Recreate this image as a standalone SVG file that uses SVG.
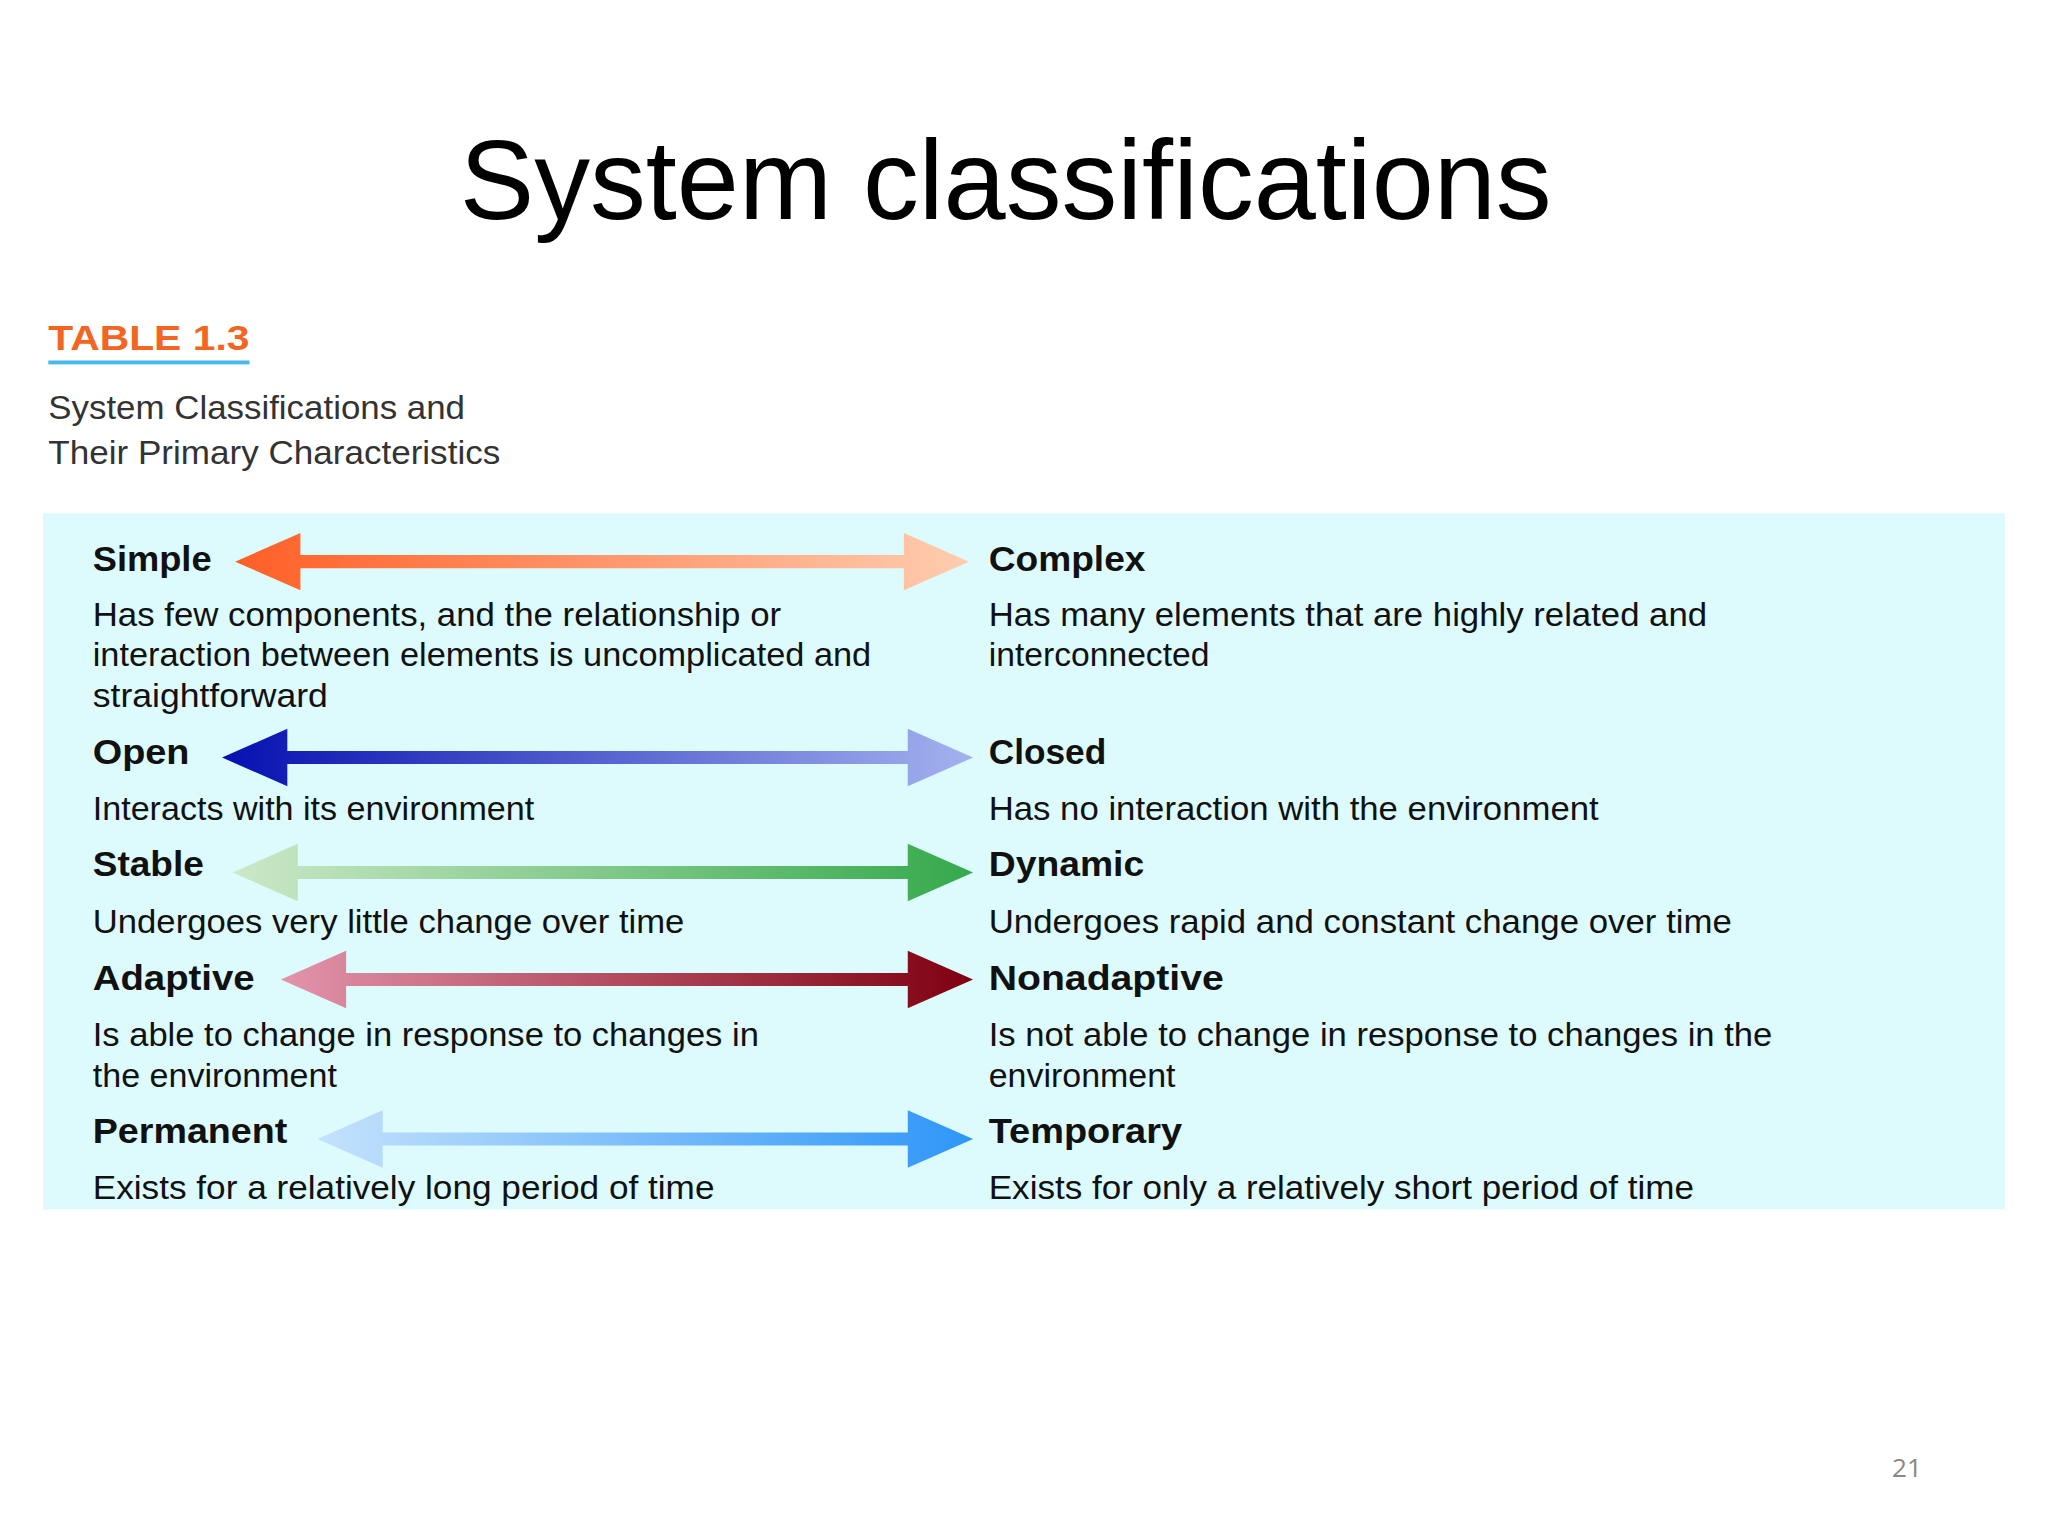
<svg xmlns="http://www.w3.org/2000/svg" width="2048" height="1536" viewBox="0 0 2048 1536">
<style>
.t{font-family:"Liberation Sans",Arial,sans-serif;fill:#111}
.lb{font-size:27px;font-weight:bold}
.d{font-size:26px}
</style>
<defs>
<linearGradient id="g1" gradientUnits="userSpaceOnUse" x1="180" x2="742"><stop offset="0" stop-color="#ff5f26"/><stop offset="1" stop-color="#ffcdb0"/></linearGradient>
<linearGradient id="g2" gradientUnits="userSpaceOnUse" x1="170" x2="745"><stop offset="0" stop-color="#0610b0"/><stop offset="1" stop-color="#a4b2ee"/></linearGradient>
<linearGradient id="g3" gradientUnits="userSpaceOnUse" x1="178" x2="745"><stop offset="0" stop-color="#cce8c8"/><stop offset="1" stop-color="#35a94c"/></linearGradient>
<linearGradient id="g4" gradientUnits="userSpaceOnUse" x1="215" x2="745"><stop offset="0" stop-color="#e294ab"/><stop offset="1" stop-color="#7e0010"/></linearGradient>
<linearGradient id="g5" gradientUnits="userSpaceOnUse" x1="243" x2="745"><stop offset="0" stop-color="#c4e2fc"/><stop offset="1" stop-color="#2e96f8"/></linearGradient>
</defs>
<rect width="2048" height="1536" fill="#fff"/>
<g transform="scale(1.30612)">
<text class="t" x="770" y="168" text-anchor="middle" font-family="'Open Sans','Liberation Sans',sans-serif" font-size="86" textLength="836" lengthAdjust="spacingAndGlyphs" style="fill:#000">System classifications</text>
<g id="header">
<text x="37" y="268" font-family="'Liberation Sans',Arial,sans-serif" font-weight="bold" font-size="27" fill="#f26522" textLength="154" lengthAdjust="spacingAndGlyphs">TABLE 1.3</text>
<rect x="37" y="276" width="154" height="3" fill="#4ab8e8"/>
<text class="t d" x="37" y="321" textLength="319" lengthAdjust="spacingAndGlyphs" style="fill:#333">System Classifications and</text>
<text class="t d" x="37" y="355" textLength="346" lengthAdjust="spacingAndGlyphs" style="fill:#333">Their Primary Characteristics</text>
</g>
<rect x="33" y="393" width="1502" height="533" fill="#ddfbfc"/>
<g id="connectors">
<path d="M180,430 L230,408 L230,425 L692,425 L692,408 L742,430 L692,452 L692,435 L230,435 L230,452 Z" fill="url(#g1)"/>
<path d="M170,580 L220,558 L220,575 L695,575 L695,558 L745,580 L695,602 L695,585 L220,585 L220,602 Z" fill="url(#g2)"/>
<path d="M178,668 L228,646 L228,663 L695,663 L695,646 L745,668 L695,690 L695,673 L228,673 L228,690 Z" fill="url(#g3)"/>
<path d="M215,750 L265,728 L265,745 L695,745 L695,728 L745,750 L695,772 L695,755 L265,755 L265,772 Z" fill="url(#g4)"/>
<path d="M243,872 L293,850 L293,867 L695,867 L695,850 L745,872 L695,894 L695,877 L293,877 L293,894 Z" fill="url(#g5)"/>
</g>
<g id="simple"><text class="t lb" x="71" y="437" textLength="91" lengthAdjust="spacingAndGlyphs">Simple</text>
<text class="t d" x="71" y="479" textLength="527" lengthAdjust="spacingAndGlyphs">Has few components, and the relationship or</text>
<text class="t d" x="71" y="510" textLength="596" lengthAdjust="spacingAndGlyphs">interaction between elements is uncomplicated and</text>
<text class="t d" x="71" y="541" textLength="180" lengthAdjust="spacingAndGlyphs">straightforward</text></g>
<g id="complex"><text class="t lb" x="757" y="437" textLength="120" lengthAdjust="spacingAndGlyphs">Complex</text>
<text class="t d" x="757" y="479" textLength="550" lengthAdjust="spacingAndGlyphs">Has many elements that are highly related and</text>
<text class="t d" x="757" y="510" textLength="169" lengthAdjust="spacingAndGlyphs">interconnected</text></g>
<g id="open"><text class="t lb" x="71" y="585" textLength="74" lengthAdjust="spacingAndGlyphs">Open</text>
<text class="t d" x="71" y="628" textLength="338" lengthAdjust="spacingAndGlyphs">Interacts with its environment</text></g>
<g id="closed"><text class="t lb" x="757" y="585" textLength="90" lengthAdjust="spacingAndGlyphs">Closed</text>
<text class="t d" x="757" y="628" textLength="467" lengthAdjust="spacingAndGlyphs">Has no interaction with the environment</text></g>
<g id="stable"><text class="t lb" x="71" y="671" textLength="85" lengthAdjust="spacingAndGlyphs">Stable</text>
<text class="t d" x="71" y="714" textLength="453" lengthAdjust="spacingAndGlyphs">Undergoes very little change over time</text></g>
<g id="dynamic"><text class="t lb" x="757" y="671" textLength="119" lengthAdjust="spacingAndGlyphs">Dynamic</text>
<text class="t d" x="757" y="714" textLength="569" lengthAdjust="spacingAndGlyphs">Undergoes rapid and constant change over time</text></g>
<g id="adaptive"><text class="t lb" x="71" y="758" textLength="124" lengthAdjust="spacingAndGlyphs">Adaptive</text>
<text class="t d" x="71" y="801" textLength="510" lengthAdjust="spacingAndGlyphs">Is able to change in response to changes in</text>
<text class="t d" x="71" y="832" textLength="187" lengthAdjust="spacingAndGlyphs">the environment</text></g>
<g id="nonadaptive"><text class="t lb" x="757" y="758" textLength="180" lengthAdjust="spacingAndGlyphs">Nonadaptive</text>
<text class="t d" x="757" y="801" textLength="600" lengthAdjust="spacingAndGlyphs">Is not able to change in response to changes in the</text>
<text class="t d" x="757" y="832" textLength="143" lengthAdjust="spacingAndGlyphs">environment</text></g>
<g id="permanent"><text class="t lb" x="71" y="875" textLength="149" lengthAdjust="spacingAndGlyphs">Permanent</text>
<text class="t d" x="71" y="918" textLength="476" lengthAdjust="spacingAndGlyphs">Exists for a relatively long period of time</text></g>
<g id="temporary"><text class="t lb" x="757" y="875" textLength="148" lengthAdjust="spacingAndGlyphs">Temporary</text>
<text class="t d" x="757" y="918" textLength="540" lengthAdjust="spacingAndGlyphs">Exists for only a relatively short period of time</text></g>
<text x="1460" y="1131" text-anchor="middle" font-family="'Open Sans','Liberation Sans',sans-serif" font-size="20" fill="#888">21</text>
</g>
</svg>
